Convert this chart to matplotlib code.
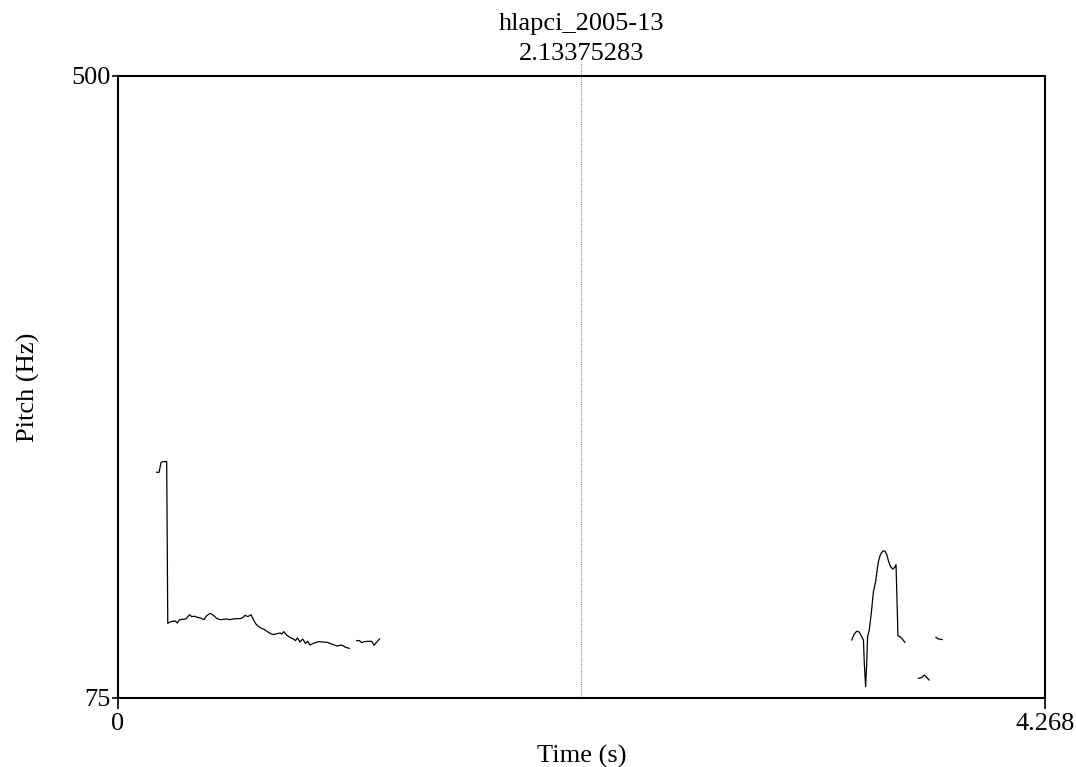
import matplotlib
matplotlib.use("Agg")
import matplotlib.pyplot as plt

# pitch contour pieces (time s, Hz)
t1 = [0.178, 0.189, 0.198, 0.209, 0.224, 0.229, 0.240, 0.250, 0.263, 0.273, 0.282, 0.295,
      0.313, 0.329, 0.339, 0.352, 0.365, 0.381, 0.396, 0.408, 0.424, 0.439, 0.454, 0.470,
      0.485, 0.500, 0.516, 0.531, 0.546, 0.562, 0.574, 0.585, 0.596, 0.603, 0.612, 0.623,
      0.635, 0.654, 0.672, 0.688, 0.703, 0.715, 0.731, 0.746, 0.754, 0.763, 0.777, 0.792,
      0.807, 0.817, 0.826, 0.838, 0.850, 0.863, 0.873, 0.884, 0.899, 0.923, 0.946, 0.964,
      0.979, 0.995, 1.010, 1.025, 1.038, 1.048, 1.065]
f1 = [229.2, 229.2, 236.0, 236.5, 236.5, 126.0, 126.9, 127.4, 127.6, 126.2, 128.3, 128.7,
      129.0, 131.9, 130.6, 130.8, 130.1, 129.6, 128.5, 131.2, 132.8, 131.5, 129.4, 128.5,
      128.7, 129.0, 128.5, 129.0, 129.2, 129.2, 129.9, 131.5, 130.6, 131.0, 131.9, 128.7,
      125.5, 123.0, 121.9, 120.3, 118.9, 118.3, 118.9, 119.4, 118.7, 120.3, 117.8, 116.4,
      115.3, 114.2, 116.0, 113.2, 115.3, 112.3, 113.7, 111.2, 112.3, 113.5, 113.2, 113.0,
      112.1, 111.2, 110.5, 111.2, 110.5, 109.6, 108.9]

t2 = [1.099, 1.111, 1.122, 1.133, 1.153, 1.168, 1.179, 1.191, 1.204]
f2 = [114.2, 114.2, 112.8, 113.5, 113.7, 113.7, 111.0, 113.2, 115.3]

t3 = [3.378, 3.389, 3.401, 3.412, 3.422, 3.432, 3.436, 3.442, 3.447, 3.451, 3.459, 3.468,
      3.478, 3.488, 3.494, 3.501, 3.510, 3.521, 3.531, 3.540, 3.548, 3.557, 3.567, 3.576,
      3.582, 3.591, 3.600, 3.611, 3.623]
f3 = [114.6, 118.5, 120.6, 120.1, 117.4, 114.6, 98.7, 82.7, 98.7, 116.9, 121.5, 132.8,
      147.7, 154.5, 161.3, 168.2, 173.0, 175.4, 175.4, 172.7, 168.2, 164.7, 163.1, 164.3,
      166.1, 117.4, 116.9, 115.3, 113.0]

t4 = [3.685, 3.700, 3.712, 3.723, 3.734]
f4 = [88.4, 88.9, 90.7, 89.1, 87.3]

t5 = [3.766, 3.778, 3.795]
f5 = [116.4, 115.3, 114.9]

t_max = 4.268
f_min, f_max = 75, 500
cursor = 2.13375283
name = "hlapci_2005-13"

plt.rcParams["font.family"] = ["Liberation Serif", "DejaVu Serif"]
fs = 19

fig = plt.figure(figsize=(10.76, 7.67), dpi=100)
ax = fig.add_axes([0.1097, 0.0900, 0.8615, 0.8110])

for t, f in [(t1, f1), (t2, f2), (t3, f3), (t4, f4), (t5, f5)]:
    ax.plot(t, f, color="black", lw=0.9)

ax.axvline(cursor, ymin=0, ymax=1.022, color="#808080", lw=0.8, ls=(0, (1, 1)), clip_on=False)
ax.text(cursor, 1.018, f"{name}\n{cursor}", transform=ax.get_xaxis_transform(),
        ha="center", va="bottom", fontsize=fs, linespacing=1.45)

ax.set_xlim(0, t_max)
ax.set_ylim(f_min, f_max)
ax.set_xticks([0, t_max])
ax.set_xticklabels(["0", "4.268"])
ax.set_yticks([f_min, f_max])
ax.tick_params(axis="both", labelsize=fs, width=1.2)
ax.tick_params(axis="x", length=8, pad=3)
ax.tick_params(axis="y", length=4, pad=1)
for s in ax.spines.values():
    s.set_linewidth(1.5)

ax.set_xlabel("Time (s)", fontsize=fs, labelpad=7)
ax.set_ylabel("Pitch (Hz)", fontsize=fs, labelpad=23)

fig.savefig("out.png", dpi=100)
